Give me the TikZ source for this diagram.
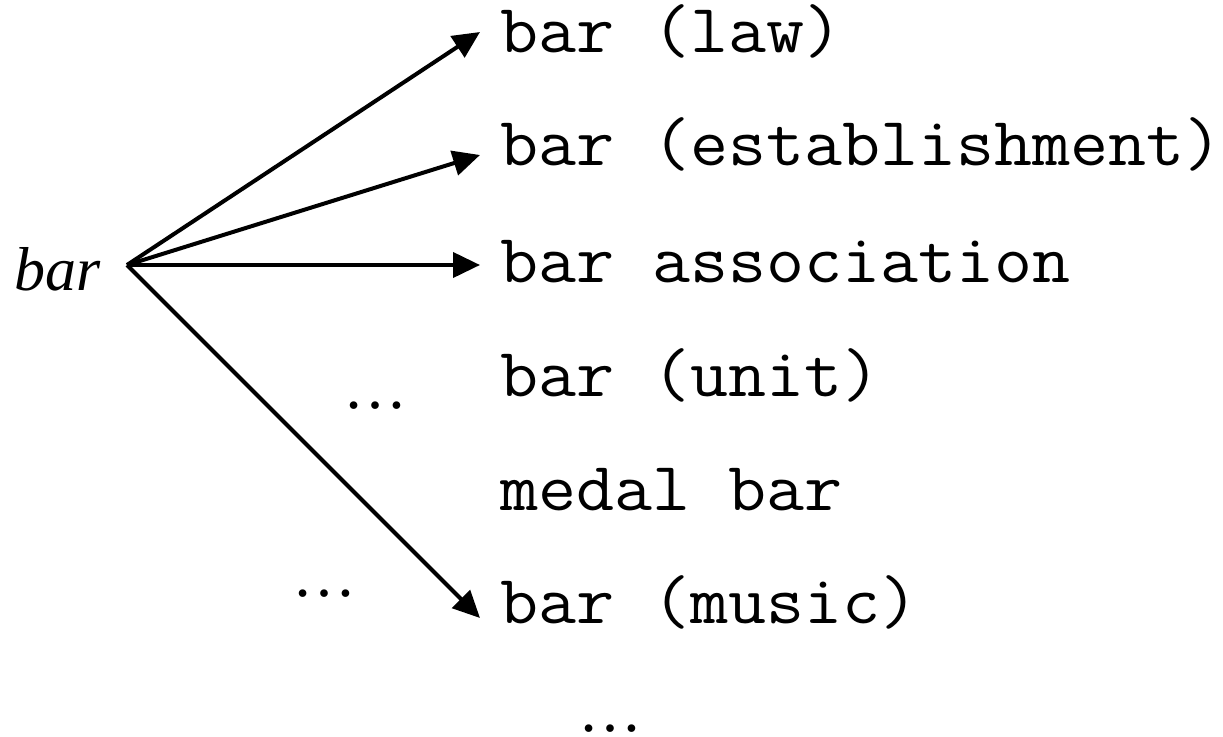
\documentclass[tikz,border=0pt]{standalone}
\usepackage{fontspec}
\setmainfont{Liberation Serif}
\newfontfamily\codefont{Latin Modern Mono}[FakeStretch=1.07]
\usetikzlibrary{arrows.meta,calc}
\tikzset{
  entry/.style={anchor=base west, inner sep=0pt, font=\fontsize{69}{78}\selectfont\codefont},
  dotsnode/.style={anchor=base, inner sep=0pt, text depth=0pt, text height=10pt, font=\fontsize{64}{70}\selectfont},
  wordnode/.style={anchor=base west, inner sep=0pt, font=\fontsize{62}{70}\selectfont\itshape},
  link/.style={line width=4pt, -{Triangle[length=27pt,width=25pt]}}
}
\begin{document}
\begin{tikzpicture}[x=1pt,y=-1pt]
\useasboundingbox (0,0) rectangle (1223,736);
\node[wordnode] (word) at (14,290) {bar};
\coordinate (hub) at (127,265);
\node[entry] (law) at (500,52) {bar (law)};
\node[entry] (est) at (500,165) {bar (establishment)};
\node[entry] (assoc) at (500,282) {bar association};
\node[entry] (unit) at (500,396) {bar (unit)};
\node[entry] (medal) at (500,510) {medal bar};
\node[entry] (music) at (500,623) {bar (music)};
\node[dotsnode] (d1) at (375.5,408) {…};
\node[dotsnode] (d2) at (324,596) {…};
\node[dotsnode] (d3) at (610.5,731) {…};
\draw[link] (hub) -- ($(law.base west)+(-20,-20)$);
\draw[link] (hub) -- ($(est.base west)+(-20,-10)$);
\draw[link] (hub) -- ($(assoc.base west)+(-20,-17)$);
\draw[link] (hub) -- ($(music.base west)+(-20,-5)$);
\end{tikzpicture}
\end{document}
